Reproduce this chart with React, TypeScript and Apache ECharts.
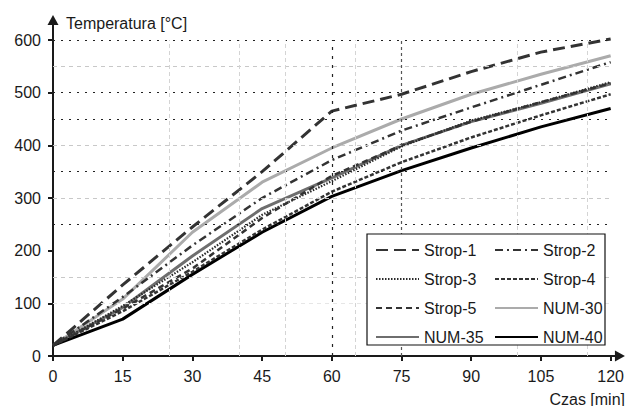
import React, { useEffect, useRef } from "react";
import * as echarts from "echarts";

const xValues = [0, 15, 30, 45, 60, 75, 90, 105, 120];
const strop1 = [20, 135, 245, 350, 465, 497, 540, 577, 602];
const strop2 = [20, 112, 210, 300, 372, 428, 472, 515, 558];
const strop3 = [20, 95, 178, 268, 332, 398, 447, 482, 520];
const strop4 = [20, 85, 160, 240, 312, 368, 415, 457, 497];
const strop5 = [20, 90, 166, 262, 342, 400, 445, 482, 518];
const num30 = [20, 108, 235, 330, 395, 450, 497, 535, 570];
const num35 = [20, 92, 190, 280, 338, 400, 445, 480, 517];
const num40 = [20, 70, 155, 235, 303, 352, 395, 435, 470];

const xTicks = [0, 15, 30, 45, 60, 75, 90, 105, 120];
const yTicks = [0, 100, 200, 300, 400, 500, 600];
const blackHGrid = [250, 350, 450, 500, 600];
const grayHGrid = [100, 150, 300, 400, 550];
const blackVGrid = [60, 75];
const grayVGrid = [25, 40, 50, 65, 100, 115];

const FONT = "Liberation Sans, Arial, sans-serif";
const TXT = "#1a1a1a";
const FS = 16;

const pairs = (ys: number[]) => xValues.map((x, i) => [x, ys[i]]);

export default function App() {
  const ref = useRef<HTMLDivElement>(null);
  useEffect(() => {
    if (!ref.current) return;
    const chart = echarts.init(ref.current, null, { renderer: "svg" });

    const gridLines: any[] = [];
    blackHGrid.forEach((v) =>
      gridLines.push([
        { coord: [0, v], lineStyle: { color: "#222", width: 1.2, type: [2, 6] } },
        { coord: [120, v] },
      ])
    );
    grayHGrid.forEach((v) =>
      gridLines.push([
        { coord: [0, v], lineStyle: { color: v === 100 ? "#e6e6e6" : "#c8c8c8", width: 1, type: [4, 4] } },
        { coord: [120, v] },
      ])
    );
    blackVGrid.forEach((v, i) =>
      gridLines.push([
        { coord: [v, 0], lineStyle: { color: i === 0 ? "#222" : "#555", width: 1.2, type: i === 0 ? [3, 6] : [3, 3] } },
        { coord: [v, 600] },
      ])
    );
    grayVGrid.forEach((v) =>
      gridLines.push([
        { coord: [v, 0], lineStyle: { color: "#d4d4d4", width: 1, type: [4, 3] } },
        { coord: [v, 600] },
      ])
    );

    const mk = (name: string, data: number[], color: string, width: number, type: any, z: number) => ({
      name,
      type: "line",
      data: pairs(data),
      symbol: "none",
      z,
      lineStyle: { color, width, type },
      itemStyle: { color },
    });

    const legendCommon = {
      orient: "vertical",
      itemWidth: 43,
      itemHeight: 14,
      itemGap: 13,
      padding: 0,
      selectedMode: false,
      z: 20,
      itemStyle: { opacity: 0 },
      textStyle: { fontSize: FS, color: TXT, fontFamily: FONT },
    };

    chart.setOption({
      animation: false,
      grid: { left: 53, right: 2, top: 20, bottom: 50, containLabel: false },
      xAxis: {
        type: "value",
        min: 0,
        max: 122,
        axisLine: {
          show: true,
          lineStyle: { color: TXT, width: 2 },
          symbol: ["none", "triangle"],
          symbolSize: [11, 10],
        },
        axisTick: { show: true, inside: false, length: 5, customValues: xTicks, lineStyle: { color: TXT, width: 2 } },
        axisLabel: { customValues: xTicks, margin: 12, fontSize: FS, color: TXT, fontFamily: FONT },
        splitLine: { show: false },
      },
      yAxis: {
        type: "value",
        min: 0,
        max: 638,
        axisLine: {
          show: true,
          lineStyle: { color: TXT, width: 2 },
          symbol: ["none", "triangle"],
          symbolSize: [11, 10],
        },
        axisTick: { show: true, inside: false, length: 5, customValues: yTicks, lineStyle: { color: TXT, width: 2 } },
        axisLabel: { customValues: yTicks, margin: 12, fontSize: FS, color: TXT, fontFamily: FONT },
        splitLine: { show: false },
      },
      legend: [
        { ...legendCommon, data: ["Strop-1", "Strop-3", "Strop-5", "NUM-35"], left: 375, top: 242 },
        { ...legendCommon, data: ["Strop-2", "Strop-4", "NUM-30", "NUM-40"], left: 494, top: 242 },
      ],
      graphic: [
        {
          type: "rect",
          z: 10,
          shape: { x: 367, y: 234, width: 238, height: 111 },
          style: { fill: "#fff", stroke: "#111", lineWidth: 1.2 },
        },
        {
          type: "text",
          z: 10,
          x: 66,
          y: 23,
          style: { text: "Temperatura [°C]", fontSize: FS, fontFamily: FONT, fill: TXT, verticalAlign: "middle", align: "left" },
        },
        {
          type: "text",
          z: 10,
          x: 625,
          y: 399,
          style: { text: "Czas [min]", fontSize: FS, fontFamily: FONT, fill: TXT, verticalAlign: "middle", align: "right" },
        },
      ],
      series: [
        {
          name: "grid",
          type: "line",
          data: [],
          z: 1,
          markLine: { silent: true, symbol: ["none", "none"], label: { show: false }, data: gridLines },
        },
        mk("NUM-30", num30, "#ababab", 3, "solid", 2),
        mk("NUM-35", num35, "#6e6e6e", 3, "solid", 2),
        mk("NUM-40", num40, "#000000", 3, "solid", 2),
        mk("Strop-1", strop1, "#333333", 3, [12, 6], 3),
        mk("Strop-2", strop2, "#333333", 2.5, [8, 4, 2, 4], 3),
        mk("Strop-3", strop3, "#2a2a2a", 2.2, [1.5, 1.5], 3),
        mk("Strop-4", strop4, "#333333", 2.5, [4, 2], 3),
        mk("Strop-5", strop5, "#333333", 2.5, [6, 4], 3),
      ],
    });
    return () => chart.dispose();
  }, []);
  return <div ref={ref} style={{ position: "fixed", left: 0, top: 0, width: 627, height: 406, background: "#fff" }} />;
}
